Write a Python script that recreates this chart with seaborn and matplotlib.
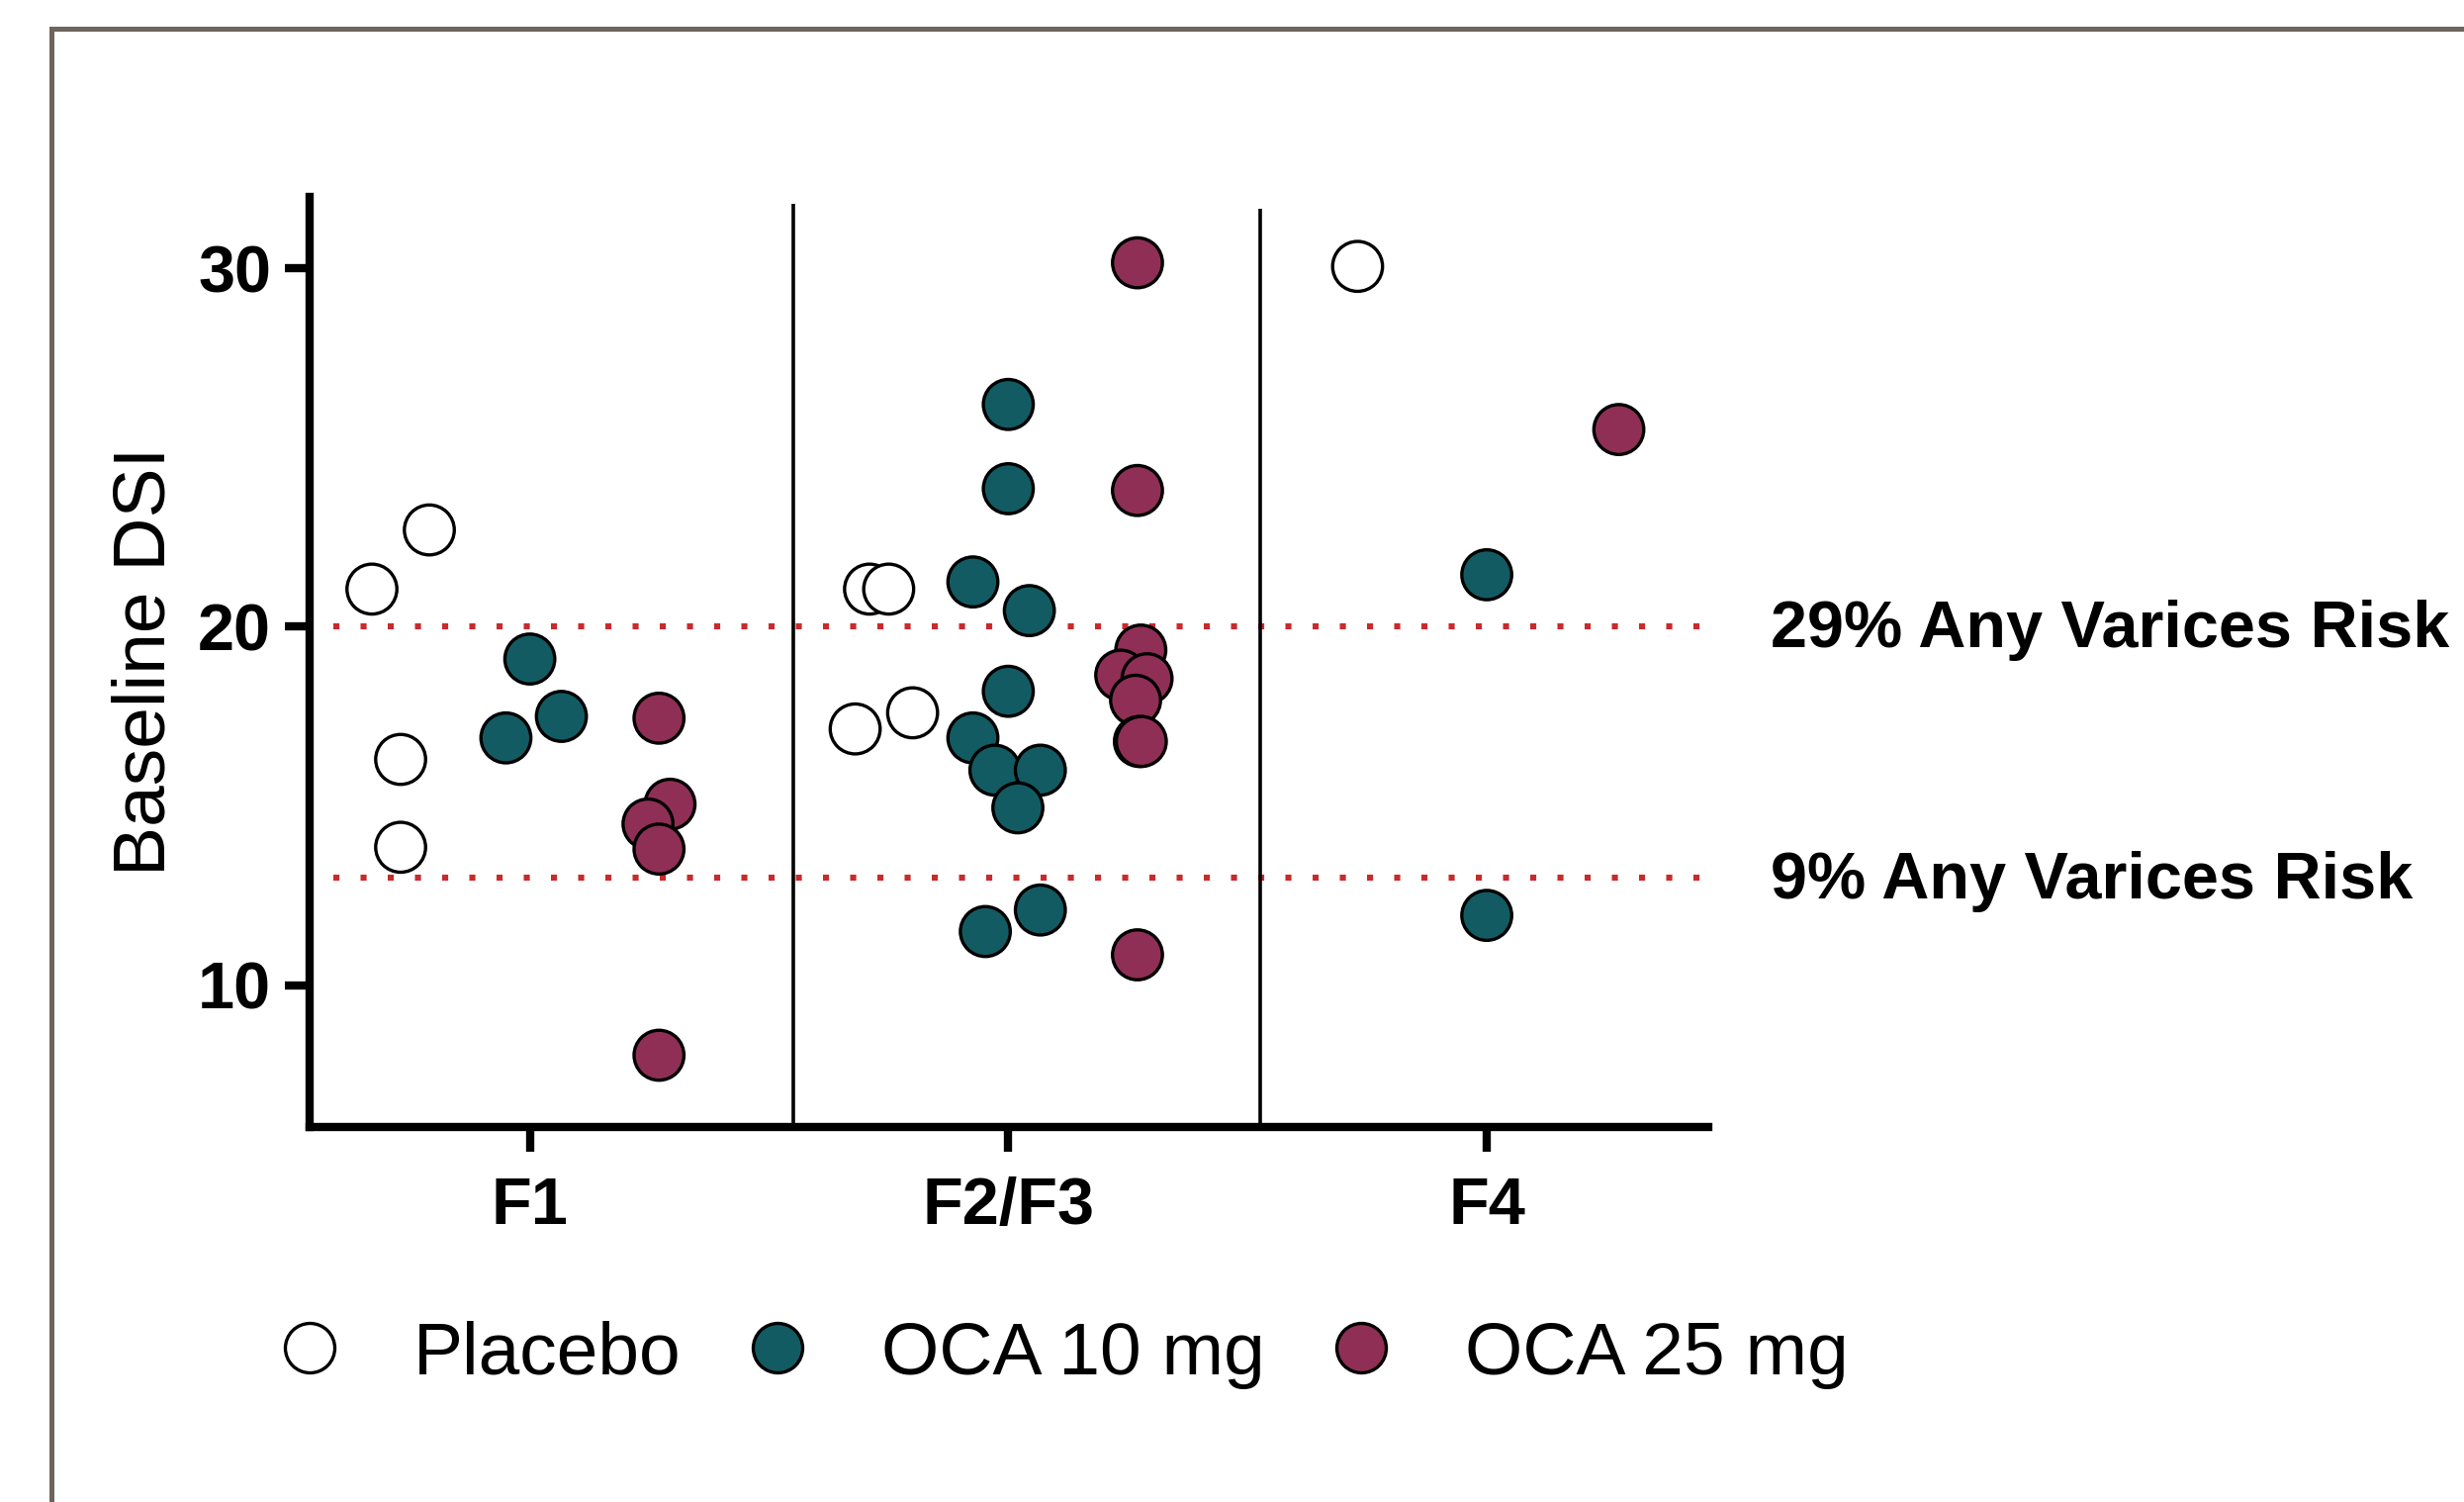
import matplotlib
matplotlib.use("Agg")
import matplotlib.pyplot as plt
import matplotlib.patches as mpatches
import numpy as np
import pandas as pd
import seaborn as sns

# data
stages = ['F1', 'F2/F3', 'F4']
groups = ['Placebo', 'OCA 10 mg', 'OCA 25 mg']

stage = (['F1'] * 4 + ['F1'] * 3 + ['F1'] * 5
         + ['F2/F3'] * 4 + ['F2/F3'] * 11 + ['F2/F3'] * 9
         + ['F4'] * 1 + ['F4'] * 2 + ['F4'] * 1)
group = (['Placebo'] * 4 + ['OCA 10 mg'] * 3 + ['OCA 25 mg'] * 5
         + ['Placebo'] * 4 + ['OCA 10 mg'] * 11 + ['OCA 25 mg'] * 9
         + ['Placebo'] * 1 + ['OCA 10 mg'] * 2 + ['OCA 25 mg'] * 1)
dsi = [21.05, 22.7, 16.3, 13.85,
       19.1, 16.9, 17.5,
       17.45, 15.05, 14.5, 13.8, 8.05,
       21.05, 21.05, 17.15, 17.6,
       26.2, 23.85, 21.25, 20.45, 18.2, 16.9, 16.0, 16.0, 14.95, 11.5, 12.1,
       30.15, 23.8, 19.35, 18.65, 18.55, 17.95, 16.8, 16.8, 10.85,
       30.05,
       21.45, 11.95,
       25.5]
# horizontal spread of overlapping dots (scatter-dot style)
spread = [-0.06, 0.06, 0.0, 0.0,
          0.0, -0.05, 0.066,
          0.0, 0.023, -0.023, 0.0, 0.0,
          -0.02, 0.02, -0.05, 0.07,
          0.0, 0.0, -0.074, 0.044, 0.0, -0.074, -0.028, 0.067, 0.02, -0.048, 0.067,
          0.0, 0.0, 0.007, -0.035, 0.02, -0.004, 0.004, 0.008, 0.0,
          0.0,
          0.0, 0.0,
          0.006]
risk_levels = [20, 13]
risk_labels = ['29% Any Varices Risk', '9% Any Varices Risk']

df = pd.DataFrame({'stage': stage, 'group': group, 'dsi': dsi, 'spread': spread})
dodge = {'Placebo': -0.27, 'OCA 10 mg': 0.0, 'OCA 25 mg': 0.27}
df['xpos'] = df['stage'].map({s: i for i, s in enumerate(stages)}) + df['group'].map(dodge) + df['spread']

sns.set_style("ticks")
plt.rcParams['font.family'] = ['Liberation Sans', 'DejaVu Sans']
plt.rcParams.update({'text.color': 'black', 'axes.labelcolor': 'black',
                     'xtick.color': 'black', 'ytick.color': 'black',
                     'axes.edgecolor': 'black'})

palette = {'Placebo': 'white', 'OCA 10 mg': '#135b62', 'OCA 25 mg': '#8f2f55'}

fig = plt.figure(figsize=(12.455, 7.59), dpi=200)
ax = fig.add_axes([0.1257, 0.2497, 0.5676, 0.6195])

# outer frame of the slide
fig.add_artist(mpatches.Rectangle((0.0209, -0.2), 1.5, 1.1812, transform=fig.transFigure,
                                  fill=False, edgecolor='#6d665e', linewidth=1.8))

for lvl in risk_levels:
    ax.axhline(lvl, xmin=0.017, xmax=1.0, color='#c92a2c', linewidth=2.2,
               linestyle=(0, (1, 3.5)), dash_capstyle='butt', zorder=1, clip_on=False)

ax.vlines([0.55, 1.527], ymin=6, ymax=[31.8, 31.67], color='black', linewidth=1.3, zorder=1)

sns.scatterplot(data=df, x='xpos', y='dsi', hue='group', hue_order=groups, palette=palette,
                s=330, edgecolor='black', linewidth=1.2, legend=False, ax=ax, zorder=3)

ax.set_xlim(-0.46, 2.463)
ax.set_ylim(6.05, 32.0)
ax.set_xticks(range(len(stages)))
ax.set_xticklabels(stages, fontsize=24, fontweight='bold')
ax.set_yticks([10, 20, 30])
ax.set_yticklabels(['10', '20', '30'], fontsize=24, fontweight='bold')
ax.tick_params(axis='both', width=3, length=9, color='black')
ax.tick_params(axis='y', pad=5)
ax.tick_params(axis='x', pad=9)
ax.set_xlabel('')
ax.set_ylabel('Baseline DSI', fontsize=27)
ax.yaxis.set_label_coords(-0.093, 0.5)
for side in ['left', 'bottom']:
    ax.spines[side].set_linewidth(3)
sns.despine(ax=ax)

for lvl, lab in zip(risk_levels, risk_labels):
    ax.text(2.593, lvl - 0.1, lab, fontsize=24, fontweight='bold', va='center', ha='left', clip_on=False)

handles = [plt.Line2D([], [], marker='o', linestyle='', markersize=18,
                      markerfacecolor=palette[g], markeredgecolor='black', markeredgewidth=1.2)
           for g in groups]
fig.legend(handles, groups, loc='center left', bbox_to_anchor=(0.1136, 0.098), ncol=3,
           frameon=False, fontsize=27, handlelength=0.8, handletextpad=1.0,
           columnspacing=0.9, borderpad=0, borderaxespad=0)

fig.savefig('out.png', dpi=200, facecolor='white')
